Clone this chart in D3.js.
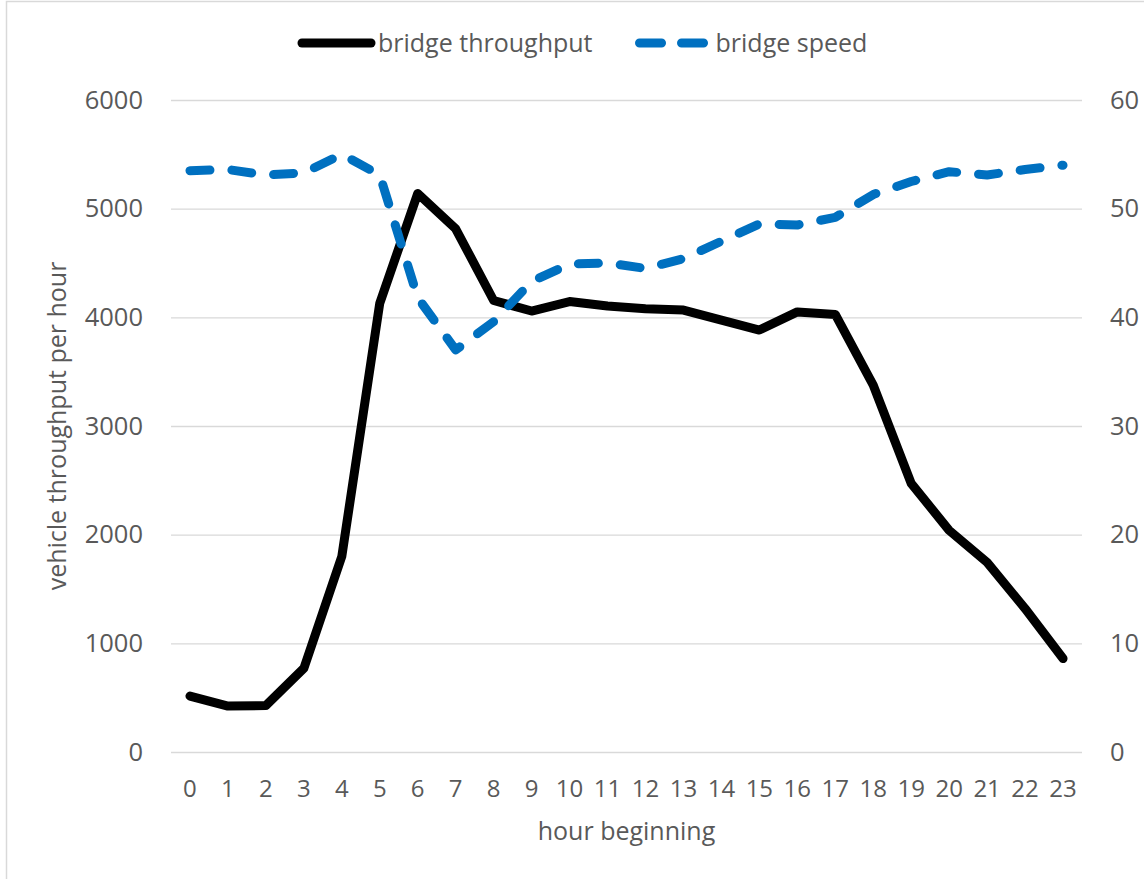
<!DOCTYPE html>
<html>
<head>
<meta charset="utf-8">
<script src="https://cdnjs.cloudflare.com/ajax/libs/d3/7.8.5/d3.min.js"></script>
<style>
    body { margin: 0; background: #fff; }
    svg { display: block; font-family: "Open Sans", sans-serif; }
    .grid line { stroke: #d9d9d9; stroke-width: 1.3; }
</style>
</head>
<body>
<div id="chart"></div>
<script>
/*global d3*/
"use strict";

// chart data
var hours = d3.range(0, 24).map(String);
var throughput = [515, 423, 428, 770, 1800, 4130, 5140, 4815, 4155, 4058, 4145, 4104,
    4080, 4067, 3975, 3883, 4050, 4027, 3377, 2472, 2040, 1745, 1320, 860];
var speed = [53.5, 53.6, 53.1, 53.3, 55.0, 53.1, 41.8, 37.0, 39.6, 43.3, 44.9, 45.0,
    44.5, 45.4, 47.0, 48.6, 48.5, 49.2, 51.3, 52.5, 53.4, 53.1, 53.6, 54.0];
var leftTicks = [0, 1000, 2000, 3000, 4000, 5000, 6000];
var rightTicks = [0, 10, 20, 30, 40, 50, 60];
var seriesNames = ["bridge throughput", "bridge speed"];

var width = 1144;
var height = 879;
var plot = {left: 171, right: 1082, top: 100, bottom: 752};
var textColor = "#595959";

var svg = d3.select("#chart").append("svg")
    .attr("width", width)
    .attr("height", height);

// outer chart frame (only left and top edges visible)
svg.append("rect")
    .attr("x", 6.5)
    .attr("y", 1.5)
    .attr("width", 1300)
    .attr("height", 1000)
    .attr("fill", "none")
    .attr("stroke", "#d9d9d9")
    .attr("stroke-width", 1.5);

var x = d3.scaleBand().domain(hours).range([plot.left, plot.right]);
var yLeft = d3.scaleLinear().domain([0, 6000]).range([plot.bottom, plot.top]);
var yRight = d3.scaleLinear().domain([0, 60]).range([plot.bottom, plot.top]);

// gridlines
svg.append("g")
    .attr("class", "grid")
    .attr("transform", "translate(" + plot.left + ",0)")
    .call(d3.axisLeft(yLeft).tickValues(leftTicks).tickSize(-(plot.right - plot.left)).tickFormat(""))
    .call(function (g) {
        g.select(".domain").remove();
    });

// left tick labels
var leftAxis = svg.append("g")
    .attr("transform", "translate(143,0)")
    .call(d3.axisLeft(yLeft).tickValues(leftTicks).tickSize(0).tickPadding(0).tickFormat(d3.format("d")));
leftAxis.select(".domain").remove();
leftAxis.selectAll("text")
    .attr("fill", textColor)
    .style("font-family", "Open Sans")
    .style("font-size", "25.5px");

// right tick labels
var rightAxis = svg.append("g")
    .attr("transform", "translate(1110,0)")
    .call(d3.axisRight(yRight).tickValues(rightTicks).tickSize(0).tickPadding(0).tickFormat(d3.format("d")));
rightAxis.select(".domain").remove();
rightAxis.selectAll("text")
    .attr("fill", textColor)
    .style("font-family", "Open Sans")
    .style("font-size", "25.5px");

// x tick labels
var xAxis = svg.append("g")
    .attr("transform", "translate(0,780)")
    .call(d3.axisBottom(x).tickSize(0).tickPadding(0));
xAxis.select(".domain").remove();
xAxis.selectAll("text")
    .attr("fill", textColor)
    .style("font-family", "Open Sans")
    .style("font-size", "24px");

// axis titles
svg.append("text")
    .attr("x", (plot.left + plot.right) / 2)
    .attr("y", 840)
    .attr("text-anchor", "middle")
    .attr("fill", textColor)
    .style("font-size", "25px")
    .text("hour beginning");

svg.append("text")
    .attr("transform", "translate(66," + (plot.top + plot.bottom) / 2 + ") rotate(-90)")
    .attr("text-anchor", "middle")
    .attr("fill", textColor)
    .style("font-size", "25px")
    .text("vehicle throughput per hour");

// lines
var throughputLine = d3.line()
    .x(function (d, i) {
        return x(hours[i]) + x.bandwidth() / 2;
    })
    .y(function (d) {
        return yLeft(d);
    });
var speedLine = d3.line()
    .x(function (d, i) {
        return x(hours[i]) + x.bandwidth() / 2;
    })
    .y(function (d) {
        return yRight(d);
    });

svg.append("path")
    .datum(throughput)
    .attr("fill", "none")
    .attr("stroke", "#000")
    .attr("stroke-width", 9)
    .attr("stroke-linecap", "round")
    .attr("stroke-linejoin", "round")
    .attr("d", throughputLine);

svg.append("path")
    .datum(speed)
    .attr("fill", "none")
    .attr("stroke", "#0070c0")
    .attr("stroke-width", 9)
    .attr("stroke-linecap", "round")
    .attr("stroke-linejoin", "round")
    .attr("stroke-dasharray", "20,22")
    .attr("d", speedLine);

// legend
var legendStyles = [
    {color: "#000", dash: null},
    {color: "#0070c0", dash: "22,20"}
];
var legendX = 298;
seriesNames.forEach(function (name, i) {
    var item = svg.append("g").attr("transform", "translate(" + legendX + ",43)");
    item.append("line")
        .attr("x1", 4)
        .attr("x2", 73)
        .attr("stroke", legendStyles[i].color)
        .attr("stroke-width", 9)
        .attr("stroke-linecap", "round")
        .attr("stroke-dasharray", legendStyles[i].dash);
    var t = item.append("text")
        .attr("x", 80)
        .attr("dy", "0.35em")
        .attr("fill", textColor)
        .style("font-size", "25px")
        .text(name);
    legendX += 80 + t.node().getComputedTextLength() + 43;
});
</script>
</body>
</html>
